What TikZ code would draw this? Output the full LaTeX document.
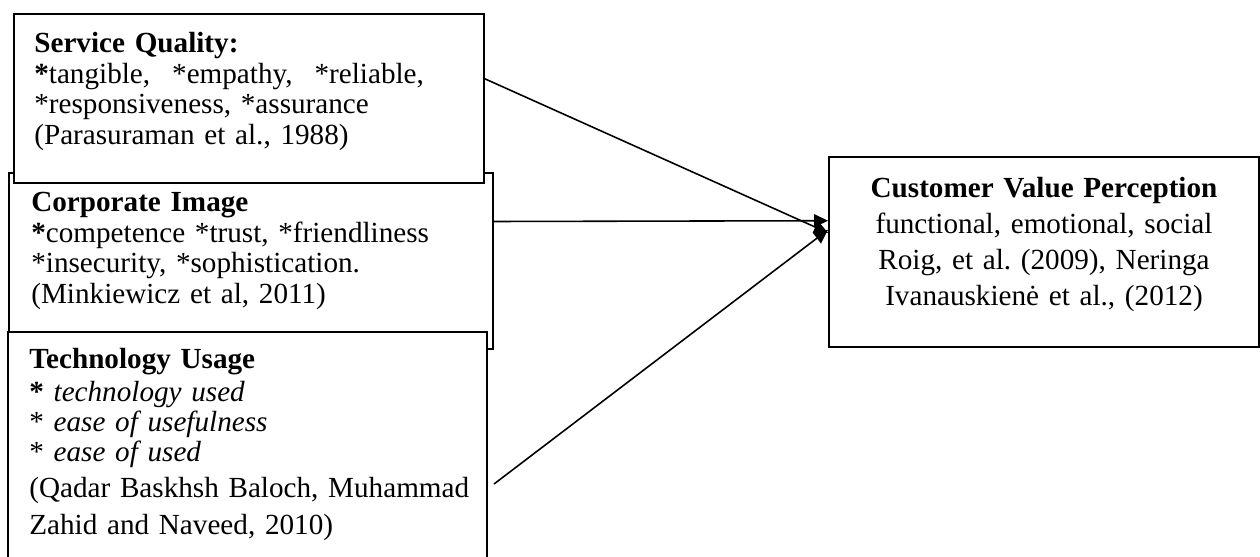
\documentclass[tikz,border=0pt]{standalone}
\usepackage{fontspec}
\setmainfont{Liberation Serif}
\usetikzlibrary{arrows.meta,calc,fit}

\tikzset{
  box/.style={draw, line width=1.1pt, fill=white, inner sep=0pt},
  boxtext/.style={anchor=base west, inner sep=0pt, align=left, text width=9.2cm,
    font=\fontsize{16.6pt}{17.3pt}\selectfont\frenchspacing},
  link/.style={line width=0.9pt, -{Triangle[length=0.28cm, width=0.26cm]}},
}

\begin{document}
\begin{tikzpicture}[x=0.02cm, y=-0.02cm]
    \useasboundingbox (0, 0) rectangle (1260, 557);

    % 枠を描く
    \node[box, fit={(9, 173) (493, 349)}] (ci) {};
    \node[box, fit={(14, 14) (484, 183)}] (sq) {};
    \node[box, fit={(8, 332) (487, 590)}] (tu) {};
    \node[box, fit={(829, 157) (1259, 347)}] (cv) {};

    % 文字を入れる
    \node[boxtext] (sqtext) at (34, 53) {\textbf{Service Quality:}\\
      \textbf{*}tangible,\hspace{0.44cm}*empathy,\hspace{0.44cm}*reliable,\\
      {*}responsiveness, *assurance\\
      (Parasuraman et al., 1988)};
    \node[boxtext] (citext) at (31, 212) {\textbf{Corporate Image}\\
      \textbf{*}competence *trust, *friendliness\\
      {*}insecurity, *sophistication.\\
      (Minkiewicz et al, 2011)};
    \node[boxtext, font=\fontsize{16.6pt}{17pt}\selectfont\frenchspacing] (tutext) at (29, 368) {\textbf{Technology Usage}\\[0.08cm]
      \textbf{*} \textit{technology used}\\
      {*} \textit{ease of usefulness}\\
      {*} \textit{ease of used}\\[0.12cm]
      (Qadar Baskhsh Baloch, Muhammad\\[0.14cm]
      Zahid and Naveed, 2010)};
    \node[boxtext, anchor=base, align=center, text width=8.4cm,
      font=\fontsize{16.6pt}{20.5pt}\selectfont\frenchspacing] (cvtext) at (1044, 197) {\textbf{Customer Value Perception}\\
      functional, emotional, social\\
      Roig, et al. (2009), Neringa\\
      Ivanauskienė et al., (2012)};

    % 矢印を引く
    \draw[link] ($(sq.north east)!0.385!(sq.south east)$) -- ($(cv.north west)!0.4!(cv.south west)$);
    \draw[link] ($(ci.north east)!0.278!(ci.south east)$) -- ($(cv.north west)!0.337!(cv.south west)$);
    \draw[link] ($(tu.north east)+(6, 153)$) -- ($(cv.north west)!0.384!(cv.south west)$);

\end{tikzpicture}
\end{document}
